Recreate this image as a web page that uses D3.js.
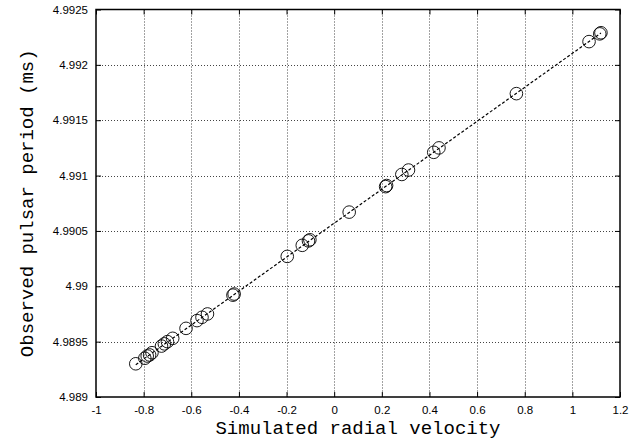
<!DOCTYPE html>
<html>
<head>
<meta charset="utf-8">
<script src="https://cdn.jsdelivr.net/npm/d3@7"></script>
<style>
  html, body { margin: 0; padding: 0; background: #fff; }
  svg { display: block; }
</style>
</head>
<body>
<svg id="chart" width="644" height="440"></svg>
<script>
// ---------- data ----------
const velocity = [-0.833, -0.795, -0.785, -0.775, -0.765, -0.725, -0.713, -0.700, -0.678,
  -0.622, -0.576, -0.555, -0.532, -0.425, -0.420, -0.197, -0.134, -0.108, -0.102,
  0.063, 0.216, 0.220, 0.284, 0.312, 0.418, 0.440, 0.765, 1.070, 1.115, 1.120];
const period = [4.98930, 4.98935, 4.98937, 4.98938, 4.98940, 4.98946, 4.98948, 4.98950, 4.98953,
  4.98962, 4.98969, 4.98972, 4.98975, 4.98992, 4.98993, 4.99027, 4.99037, 4.99041, 4.99042,
  4.99067, 4.99090, 4.99091, 4.99101, 4.99105, 4.99121, 4.99125, 4.99174, 4.99221, 4.99228, 4.99229];
const fitX = [-0.833, 1.120];
const fitY = [4.989292, 4.992288];

const xTicks = [-1, -0.8, -0.6, -0.4, -0.2, 0, 0.2, 0.4, 0.6, 0.8, 1, 1.2];
const xTickLabels = ["-1", "-0.8", "-0.6", "-0.4", "-0.2", "0", "0.2", "0.4", "0.6", "0.8", "1", "1.2"];
const yTicks = [4.989, 4.9895, 4.99, 4.9905, 4.991, 4.9915, 4.992, 4.9925];
const yTickLabels = ["4.989", "4.9895", "4.99", "4.9905", "4.991", "4.9915", "4.992", "4.9925"];

const xLabel = "Simulated radial velocity";
const yLabel = "Observed pulsar period (ms)";

// ---------- layout ----------
const L = 96, R = 620, T = 9.5, B = 397;
const svg = d3.select("#chart");

const x = d3.scaleLinear().domain([-1, 1.2]).range([L, R]);
const y = d3.scaleLinear().domain([4.989, 4.9925]).range([B, T]);

// grid
const grid = svg.append("g").attr("stroke", "#444").attr("stroke-width", 1)
  .attr("stroke-dasharray", "1,2").attr("fill", "none");
grid.selectAll("line.gx").data(xTicks.slice(1, -1)).join("line")
  .attr("x1", d => Math.round(x(d)) + 0.5).attr("x2", d => Math.round(x(d)) + 0.5)
  .attr("y1", T).attr("y2", B);
grid.selectAll("line.gy").data(yTicks.slice(1, -1)).join("line")
  .attr("y1", d => Math.round(y(d)) + 0.5).attr("y2", d => Math.round(y(d)) + 0.5)
  .attr("x1", L).attr("x2", R);

// axes
const tickFont = "'Liberation Sans', Arial, sans-serif";
const gx = svg.append("g").attr("transform", `translate(0,${B})`)
  .call(d3.axisBottom(x).tickValues(xTicks).tickFormat((d, i) => xTickLabels[i])
    .tickSize(-5).tickSizeOuter(0).tickPadding(9));
const gy = svg.append("g").attr("transform", `translate(${L},0)`)
  .call(d3.axisLeft(y).tickValues(yTicks).tickFormat((d, i) => yTickLabels[i])
    .tickSize(-5).tickSizeOuter(0).tickPadding(8));
const gt = svg.append("g").attr("transform", `translate(0,${T})`)
  .call(d3.axisTop(x).tickValues(xTicks).tickFormat("").tickSize(-5).tickSizeOuter(0));
const gr = svg.append("g").attr("transform", `translate(${R},0)`)
  .call(d3.axisRight(y).tickValues(yTicks).tickFormat("").tickSize(-5).tickSizeOuter(0));

[gx, gy, gt, gr].forEach(g => {
  g.select(".domain").remove();
  g.selectAll(".tick line").attr("stroke", "#000").attr("stroke-width", 1);
  g.selectAll(".tick text").attr("fill", "#000").style("font-family", tickFont).style("font-size", "11.5px");
});

// border
svg.append("rect").attr("x", L).attr("y", T).attr("width", R - L).attr("height", B - T)
  .attr("fill", "none").attr("stroke", "#000").attr("stroke-width", 1.5);

// fit line
svg.append("path")
  .datum(fitX.map((d, i) => [d, fitY[i]]))
  .attr("d", d3.line().x(d => x(d[0])).y(d => y(d[1])))
  .attr("fill", "none").attr("stroke", "#000").attr("stroke-width", 1.2)
  .attr("stroke-dasharray", "3,2");

// points
svg.append("g").selectAll("circle").data(velocity).join("circle")
  .attr("cx", d => x(d)).attr("cy", (d, i) => y(period[i])).attr("r", 6.3)
  .attr("fill", "none").attr("stroke", "#000").attr("stroke-width", 0.9);

// axis titles
const titleFont = "'Liberation Mono', 'Courier New', monospace";
svg.append("text").attr("x", (L + R) / 2).attr("y", 433.5).attr("text-anchor", "middle")
  .style("font-family", titleFont).style("font-size", "19px").attr("fill", "#000").text(xLabel);
svg.append("text").attr("transform", `translate(33,${(T + B) / 2}) rotate(-90)`)
  .attr("text-anchor", "middle")
  .style("font-family", titleFont).style("font-size", "19px").attr("fill", "#000").text(yLabel);
</script>
</body>
</html>
